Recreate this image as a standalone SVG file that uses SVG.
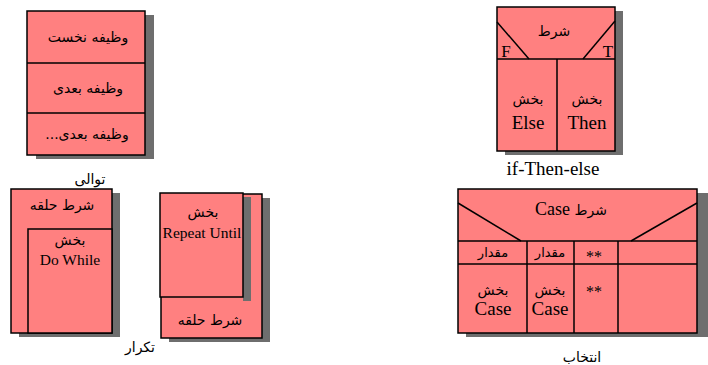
<svg xmlns="http://www.w3.org/2000/svg" width="708" height="365" viewBox="0 0 708 365">
<style>
.box{fill:#ff8080;stroke:#000;stroke-width:1.5}
.sh{fill:#6e6e6e}
.ln{stroke:#000;stroke-width:1.5;fill:none}
.fa{font-family:"DejaVu Sans","Noto Sans",sans-serif;font-size:14px;fill:#000;text-anchor:middle;direction:rtl}
.la{font-family:"Liberation Serif","Times New Roman",serif;font-size:19px;fill:#000;text-anchor:middle}
.lbl{font-family:"DejaVu Sans","Noto Sans",sans-serif;font-size:14px;fill:#000;text-anchor:middle;direction:rtl}
</style>
<rect width="708" height="365" fill="#fff"/>
<g id="sequence">
<rect class="sh" x="36" y="15" width="118" height="144"/>
<rect class="box" x="27" y="11" width="118" height="144"/>
<line class="ln" x1="27" y1="63" x2="145" y2="63"/>
<line class="ln" x1="27" y1="113" x2="145" y2="113"/>
<text class="fa" x="88" y="42">وظیفه نخست</text>
<text class="fa" x="88" y="93">وظیفه بعدی</text>
<text class="fa" x="87" y="139">وظیفه بعدی...</text>
<text class="lbl" x="90" y="184">توالی</text>
</g>
<g id="do-while">
<rect class="sh" x="19" y="193" width="101" height="144"/>
<rect class="box" x="11" y="189" width="101" height="144"/>
<rect class="box" x="28" y="229" width="84" height="104"/>
<text class="fa" x="62" y="210">شرط حلقه</text>
<text class="fa" x="70" y="245">بخش</text>
<text class="la" x="70" y="265" style="font-size:15.5px">Do While</text>
</g>
<g id="repeat-until">
<rect class="sh" x="169" y="198" width="101" height="144"/>
<rect class="box" x="161" y="194" width="101" height="144"/>
<rect class="sh" x="243" y="197" width="8" height="104"/>
<rect class="box" x="160" y="193" width="83" height="104"/>
<text class="fa" x="203" y="217">بخش</text>
<text class="la" x="202" y="238" style="font-size:15.5px">Repeat Until</text>
<text class="fa" x="210" y="325">شرط حلقه</text>
<text class="lbl" x="140" y="352">تکرار</text>
</g>
<g id="if-then-else">
<rect class="sh" x="505" y="11" width="118" height="144"/>
<rect class="box" x="497" y="7" width="118" height="144"/>
<line class="ln" x1="497" y1="59" x2="615" y2="59"/>
<line class="ln" x1="557" y1="59" x2="557" y2="151"/>
<line class="ln" x1="497" y1="22" x2="529" y2="59"/>
<line class="ln" x1="615" y1="21" x2="583" y2="59"/>
<text class="fa" x="554" y="36">شرط</text>
<text class="la" x="506" y="57" style="font-size:17px">F</text>
<text class="la" x="608" y="57" style="font-size:17px">T</text>
<text class="fa" x="528" y="104">بخش</text>
<text class="la" x="528" y="129">Else</text>
<text class="fa" x="587" y="104">بخش</text>
<text class="la" x="587" y="129">Then</text>
<text class="la" x="553" y="175">if-Then-else</text>
</g>
<g id="case">
<rect class="sh" x="466" y="193" width="242" height="144"/>
<rect class="box" x="458" y="189" width="239" height="144"/>
<line class="ln" x1="458" y1="241" x2="697" y2="241"/>
<line class="ln" x1="458" y1="264" x2="697" y2="264"/>
<line class="ln" x1="527" y1="241" x2="527" y2="333"/>
<line class="ln" x1="574" y1="241" x2="574" y2="333"/>
<line class="ln" x1="618" y1="241" x2="618" y2="333"/>
<line class="ln" x1="458" y1="203" x2="521" y2="241"/>
<line class="ln" x1="697" y1="203" x2="631" y2="241"/>
<text class="fa" x="571" y="215"><tspan>شرط </tspan><tspan style="font-family:'Liberation Serif',serif;font-size:18px">Case</tspan></text>
<text class="fa" x="493" y="257" style="font-size:13px">مقدار</text>
<text class="fa" x="550" y="257" style="font-size:13px">مقدار</text>
<text class="la" x="594" y="262" style="font-size:16px">**</text>
<text class="fa" x="493" y="295">بخش</text>
<text class="la" x="493" y="315">Case</text>
<text class="fa" x="550" y="295">بخش</text>
<text class="la" x="550" y="315">Case</text>
<text class="la" x="594" y="297" style="font-size:16px">**</text>
<text class="lbl" x="582" y="362">انتخاب</text>
</g>
</svg>
